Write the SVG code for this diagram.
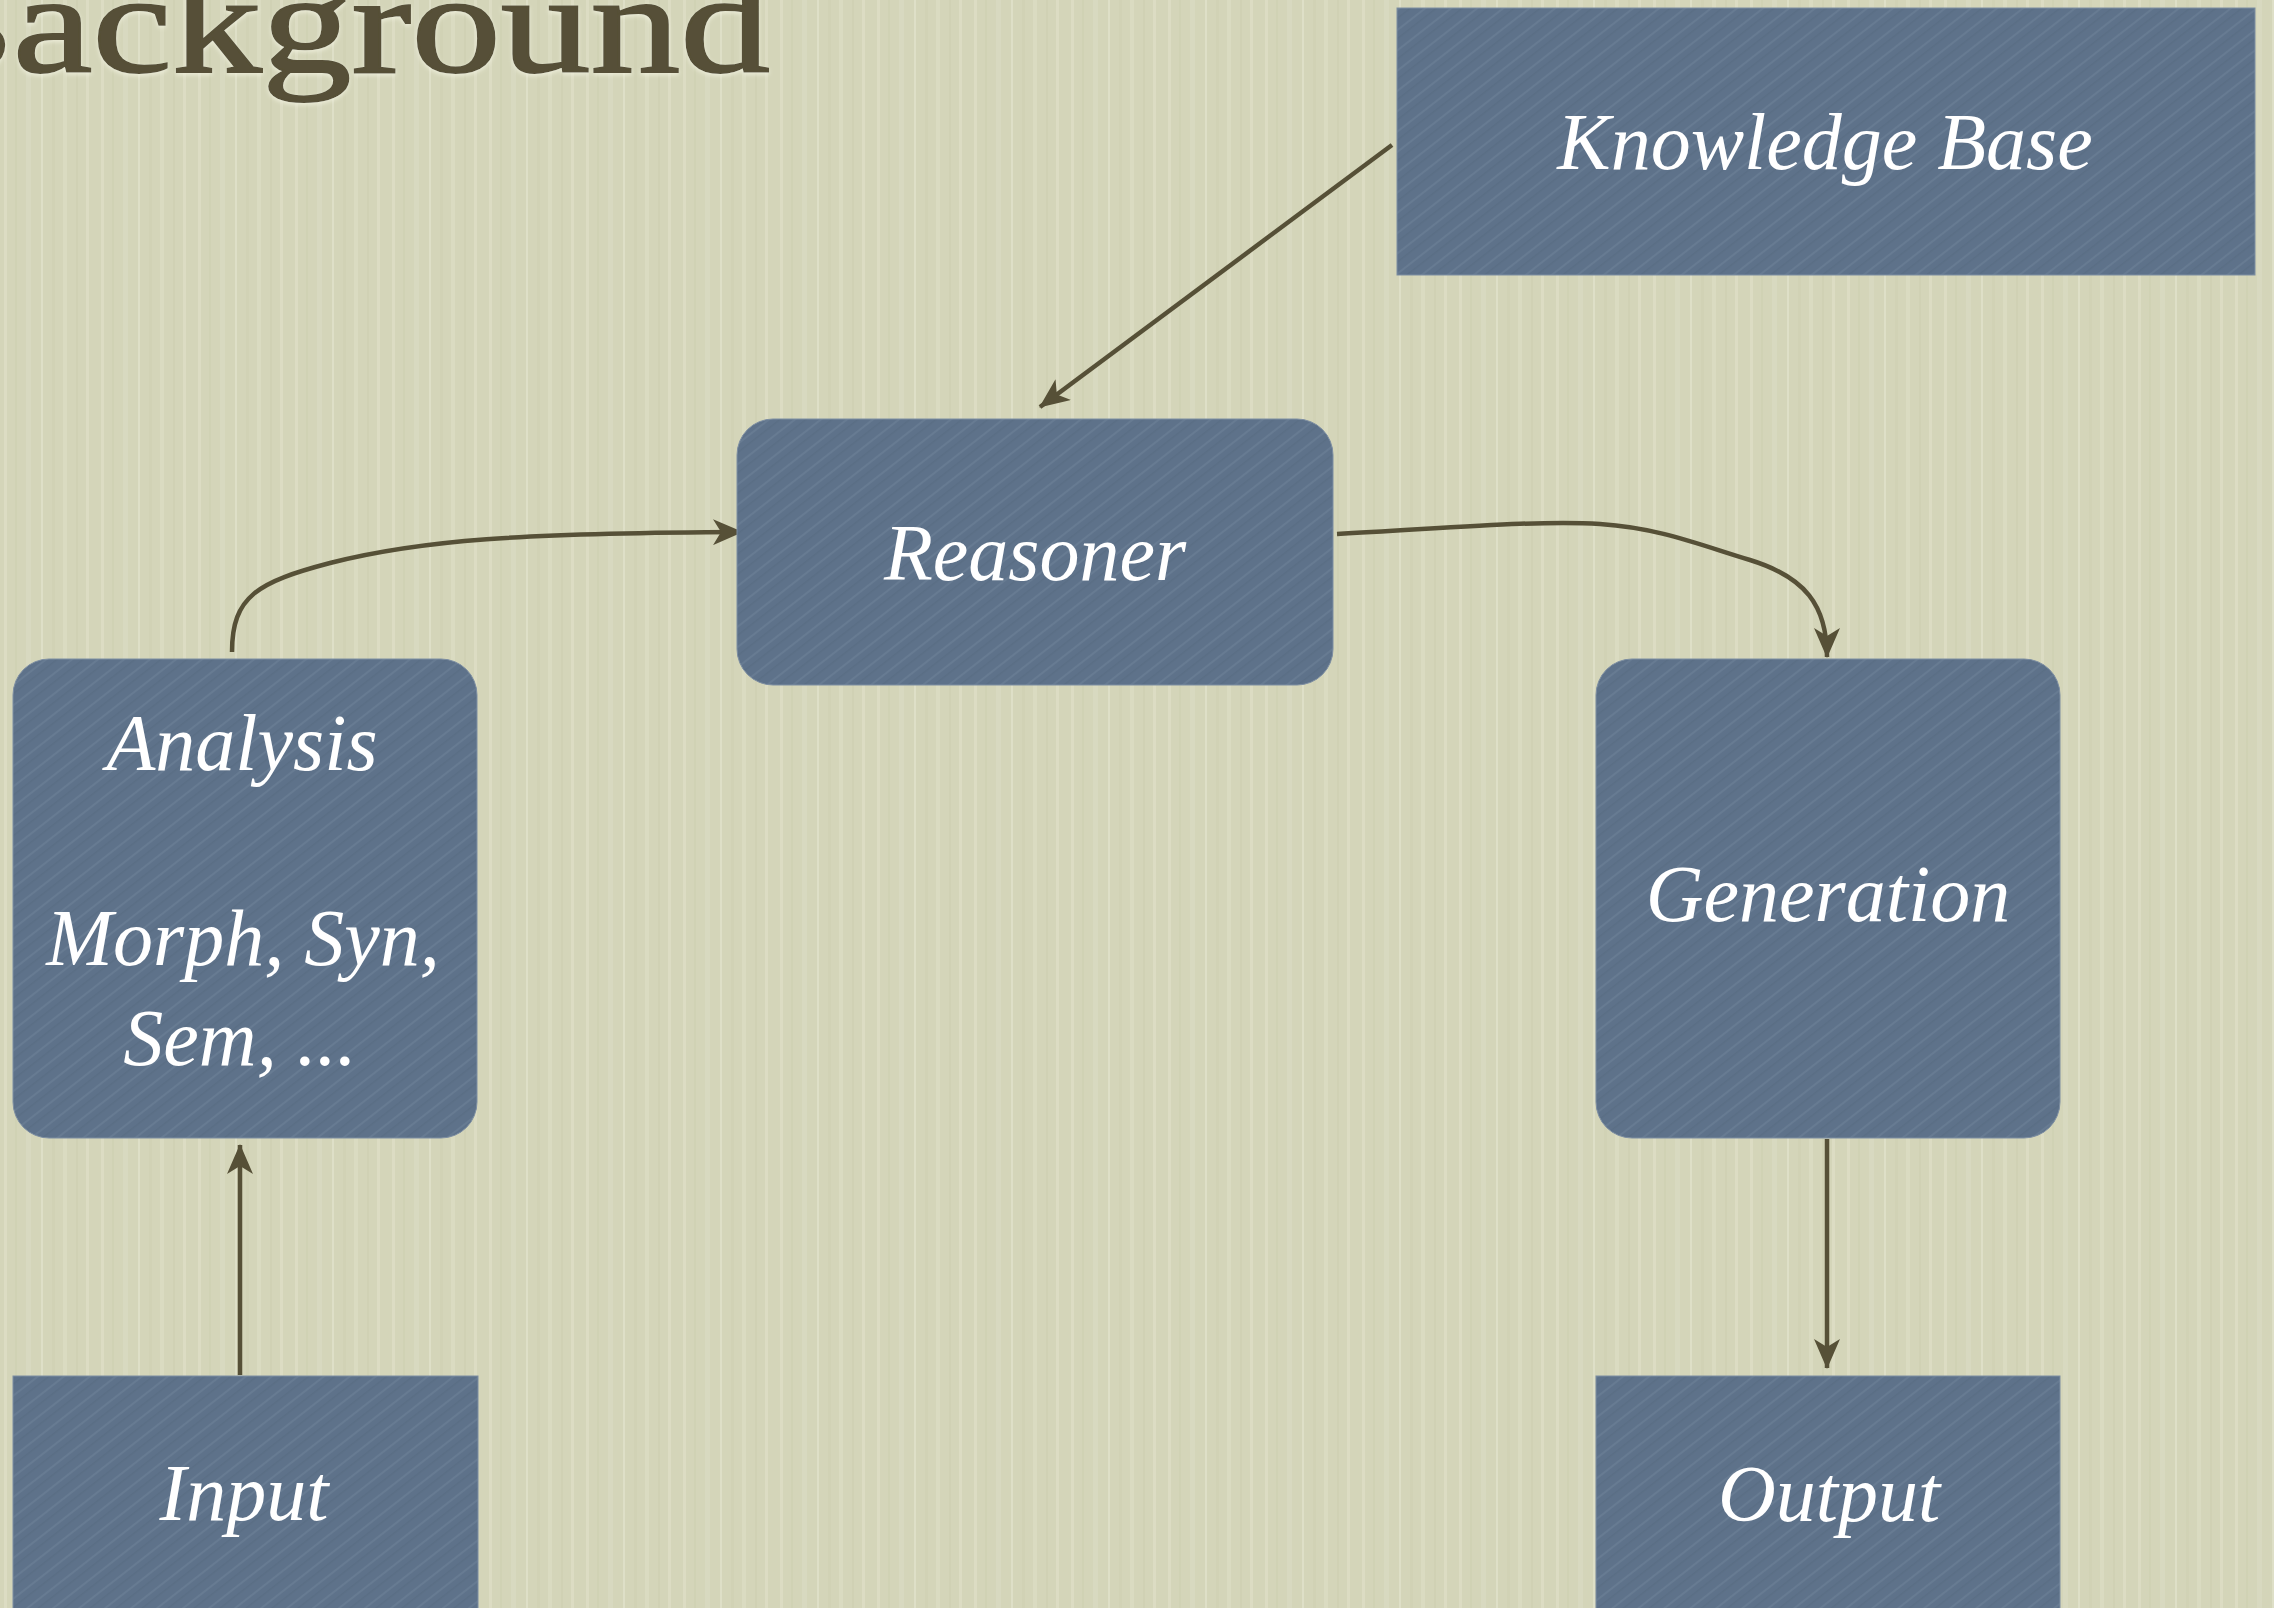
<svg xmlns="http://www.w3.org/2000/svg" width="2274" height="1608" viewBox="0 0 2274 1608">
  <defs>
    <pattern id="paper" x="0" y="0" width="97" height="400" patternUnits="userSpaceOnUse">
      <rect width="97" height="400" fill="#d4d5b9"/>
      <rect x="4" y="0" width="3" height="400" fill="#e1e2cb" opacity="0.55"/>
      <rect x="15" y="0" width="2" height="400" fill="#c9caac" opacity="0.35"/>
      <rect x="26" y="0" width="5" height="400" fill="#dedfc7" opacity="0.45"/>
      <rect x="41" y="0" width="2" height="400" fill="#e5e6d1" opacity="0.6"/>
      <rect x="52" y="0" width="3" height="400" fill="#cacbad" opacity="0.3"/>
      <rect x="63" y="0" width="4" height="400" fill="#e0e1ca" opacity="0.5"/>
      <rect x="76" y="0" width="2" height="400" fill="#c8c9ab" opacity="0.3"/>
      <rect x="86" y="0" width="3" height="400" fill="#e3e3cd" opacity="0.5"/>
    </pattern>
    <pattern id="slate" x="0" y="0" width="16" height="16" patternUnits="userSpaceOnUse" patternTransform="rotate(-38)">
      <rect width="16" height="16" fill="#5e728a"/>
      <rect x="0" y="3" width="16" height="2" fill="#6c8198" opacity="0.6"/>
      <rect x="0" y="10" width="16" height="1.5" fill="#56697f" opacity="0.5"/>
    </pattern>
    <marker id="arrow" viewBox="0 0 30 26" markerWidth="30" markerHeight="26" refX="29" refY="13" orient="auto" markerUnits="userSpaceOnUse">
      <path d="M0,0 L30,13 L0,26 L8,13 z" fill="#565037"/>
    </marker>
    <filter id="emboss" x="-10%" y="-20%" width="120%" height="140%">
      <feDropShadow dx="0" dy="2" stdDeviation="2" flood-color="#f2f2e0" flood-opacity="0.8"/>
    </filter>
  </defs>
  <style>
    .box { fill: url(#slate); stroke: #7d8ea2; stroke-width: 1; }
    .label { font-family: "Liberation Serif", "DejaVu Serif", serif; font-style: italic; font-size: 80px; fill: #ffffff; text-anchor: middle; }
    .title { font-family: "Liberation Serif", "DejaVu Serif", serif; font-size: 142px; fill: #565037; stroke: #565037; stroke-width: 2; }
    .conn { fill: none; stroke: #565037; stroke-width: 4.5; marker-end: url(#arrow); }
  </style>

  <rect x="0" y="0" width="2274" height="1608" fill="url(#paper)"/>

  <text class="title" x="-107" y="72" textLength="877" lengthAdjust="spacingAndGlyphs" filter="url(#emboss)">Background</text>

  <g id="connectors">
    <line class="conn" x1="1392" y1="145" x2="1040" y2="407"/>
    <path class="conn" d="M232,652 C232,596 258,582 330,563 C420,540 520,533 742,532"/>
    <path class="conn" d="M1337,534 C1450,528 1540,520 1600,524 C1660,528 1700,545 1750,560 C1805,577 1827,605 1827,657"/>
    <line class="conn" x1="240" y1="1375" x2="240" y2="1145"/>
    <line class="conn" x1="1827" y1="1139" x2="1827" y2="1368"/>
  </g>

  <g id="knowledge-base">
    <rect class="box" x="1397" y="8" width="858" height="267"/>
    <text class="label" x="1825" y="169">Knowledge Base</text>
  </g>

  <g id="reasoner">
    <rect class="box" x="737" y="419" width="596" height="266" rx="36" ry="36"/>
    <text class="label" x="1035" y="580">Reasoner</text>
  </g>

  <g id="analysis">
    <rect class="box" x="13" y="659" width="464" height="479" rx="36" ry="36"/>
    <text class="label" x="242" y="770">Analysis</text>
    <text class="label" x="243" y="965">Morph, Syn,</text>
    <text class="label" x="240" y="1065">Sem, ...</text>
  </g>

  <g id="generation">
    <rect class="box" x="1596" y="659" width="464" height="479" rx="36" ry="36"/>
    <text class="label" x="1828" y="921">Generation</text>
  </g>

  <g id="input">
    <rect class="box" x="13" y="1376" width="465" height="240"/>
    <text class="label" x="244" y="1520">Input</text>
  </g>

  <g id="output">
    <rect class="box" x="1596" y="1376" width="464" height="240"/>
    <text class="label" x="1829" y="1521">Output</text>
  </g>
</svg>
